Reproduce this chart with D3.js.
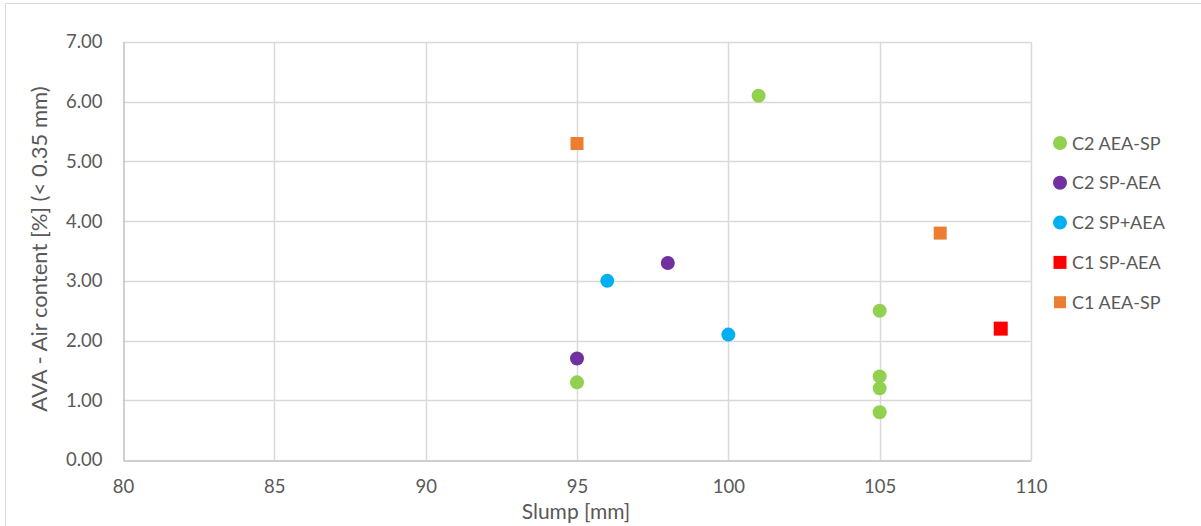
<!DOCTYPE html>
<html><head><meta charset="utf-8">
<script src="https://cdn.jsdelivr.net/npm/d3@7"></script>
<style>body{margin:0;background:#fff}svg{display:block}text{font-family:Lato,"Open Sans",sans-serif;fill:#595959}</style>
</head><body><svg id="c" width="1201" height="526"></svg>
<script>
const seriesNames = ["C2 AEA-SP","C2 SP-AEA","C2 SP+AEA","C1 SP-AEA","C1 AEA-SP"];
const seriesColors = ["#92d050","#7030a0","#00b0f0","#ff0000","#ed7d31"];
const seriesShapes = ["circle","circle","circle","square","square"];
const c2AeaSpX = [101,95,105,105,105,105];
const c2AeaSpY = [6.1,1.3,2.5,1.4,1.2,0.8];
const c2SpAeaX = [95,98];
const c2SpAeaY = [1.7,3.3];
const c2SpPlusAeaX = [96,100];
const c2SpPlusAeaY = [3.0,2.1];
const c1SpAeaX = [109];
const c1SpAeaY = [2.2];
const c1AeaSpX = [95,107];
const c1AeaSpY = [5.3,3.8];
const xTicks = [80,85,90,95,100,105,110];
const yTicks = [0,1,2,3,4,5,6,7];

const xs = [c2AeaSpX,c2SpAeaX,c2SpPlusAeaX,c1SpAeaX,c1AeaSpX];
const ys = [c2AeaSpY,c2SpAeaY,c2SpPlusAeaY,c1SpAeaY,c1AeaSpY];

const svg = d3.select("#c");
const L=123,R=1031,T=42,B=460;
const x = d3.scaleLinear().domain([80,110]).range([L,R]);
const y = d3.scaleLinear().domain([0,7]).range([B,T]);

// outer frame
svg.append("line").attr("x1",5).attr("x2",1201).attr("y1",3.5).attr("y2",3.5).attr("stroke","#d9d9d9");
svg.append("line").attr("x1",5.5).attr("x2",5.5).attr("y1",3.5).attr("y2",526).attr("stroke","#d9d9d9");

// gridlines
svg.append("g").selectAll("line").data(yTicks.slice(1)).join("line")
  .attr("x1",L).attr("x2",R).attr("y1",d=>Math.round(y(d))+0.5).attr("y2",d=>Math.round(y(d))+0.5)
  .attr("stroke","#d9d9d9").attr("stroke-width",1.5);
svg.append("g").selectAll("line").data(xTicks.slice(1)).join("line")
  .attr("y1",T).attr("y2",B).attr("x1",d=>Math.round(x(d))+0.5).attr("x2",d=>Math.round(x(d))+0.5)
  .attr("stroke","#d9d9d9").attr("stroke-width",1.5);
// axes
const xAxis = svg.append("g").attr("transform",`translate(0,${B+0.5})`)
  .call(d3.axisBottom(x).tickValues(xTicks).tickSize(0).tickPadding(19).tickFormat(d3.format("d")));
xAxis.select(".domain").attr("stroke","#bfbfbf").attr("stroke-width",1.5);
const yAxis = svg.append("g").attr("transform",`translate(${L+0.5},0)`)
  .call(d3.axisLeft(y).tickValues(yTicks).tickSize(0).tickPadding(21).tickFormat(d3.format(".2f")));
yAxis.select(".domain").attr("stroke","#bfbfbf").attr("stroke-width",1.5);
svg.selectAll(".tick text").style("font-size","18.5px").attr("fill","#595959").style("font-family","Lato, sans-serif");

// titles
svg.append("text").attr("x",(L+R)/2-1).attr("y",519).attr("text-anchor","middle").style("font-size","21px").text("Slump [mm]");
svg.append("text").attr("transform",`translate(47,${(T+B)/2-2}) rotate(-90)`).attr("text-anchor","middle").style("font-size","22px").text("AVA - Air content [%] (< 0.35 mm)");

// points
seriesNames.forEach((n,i)=>{
  const pts = xs[i].map((v,j)=>[v,ys[i][j]]);
  const g = svg.append("g");
  if(seriesShapes[i]==="circle"){
    g.selectAll("circle").data(pts).join("circle").attr("cx",d=>x(d[0])).attr("cy",d=>y(d[1])).attr("r",7).attr("fill",seriesColors[i]);
  } else {
    const s = i===3?14:13;
    g.selectAll("rect").data(pts).join("rect").attr("x",d=>x(d[0])-s/2).attr("y",d=>y(d[1])-s/2).attr("width",s).attr("height",s).attr("fill",seriesColors[i]);
  }
});

// legend
const lg = svg.append("g");
seriesNames.forEach((n,i)=>{
  const cy = 143 + i*39.8;
  if(seriesShapes[i]==="circle") lg.append("circle").attr("cx",1060).attr("cy",cy).attr("r",7).attr("fill",seriesColors[i]);
  else { const s=i===3?13:12; lg.append("rect").attr("x",1060-s/2).attr("y",cy-s/2).attr("width",s).attr("height",s).attr("fill",seriesColors[i]); }
  lg.append("text").attr("x",1072).attr("y",cy+6.5).style("font-size","18px").text(n);
});
</script></body></html>
